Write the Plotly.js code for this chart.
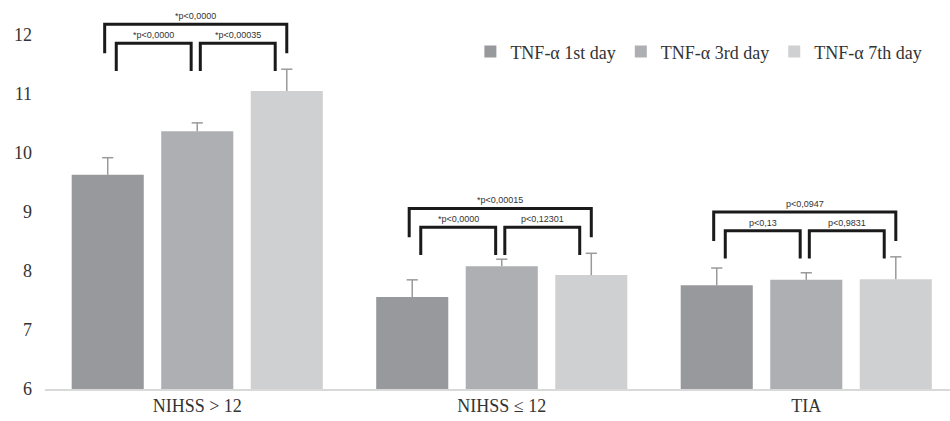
<!DOCTYPE html>
<html><head><meta charset="utf-8">
<script src="https://cdn.plot.ly/plotly-3.0.1.min.js"></script>
<style>body{margin:0;background:#fff}#c{width:950px;height:421px}</style>
</head><body><div id="c"></div>
<script>
const categories = ["NIHSS > 12", "NIHSS \u2264 12", "TIA"];
const seriesNames = ["TNF-\u03b1 1st day", "TNF-\u03b1 3rd day", "TNF-\u03b1 7th day"];
const day1 = [9.63, 7.56, 7.76];
const day3 = [10.37, 8.08, 7.85];
const day7 = [11.05, 7.93, 7.86];
const err1 = [0.29, 0.29, 0.29];
const err3 = [0.14, 0.12, 0.12];
const err7 = [0.37, 0.37, 0.38];
const pOuter = ["*p<0,0000", "*p<0,00015", "p<0,0947"];
const pLeft = ["*p<0,0000", "*p<0,0000", "p<0,13"];
const pRight = ["*p<0,00035", "p<0,12301", "p<0,9831"];
const yTicks = [6, 7, 8, 9, 10, 11, 12];

const colors = ["#98999d", "#aeafb3", "#cfd0d2"];
const vals = [day1, day3, day7];
const errs = [err1, err3, err7];
const xs = categories.map((c, i) => i);
const bargap = 0.118, slot = (1 - bargap) / 3;

const traces = vals.map((v, k) => ({
  type: "bar", name: seriesNames[k], x: xs, y: v,
  marker: {color: colors[k]}, hoverinfo: "none"
}));
// upward-only error bars: stem from bar top to value+err, cap only at the top
vals.forEach((v, k) => {
  traces.push({
    type: "scatter", mode: "markers", showlegend: false, hoverinfo: "none",
    x: xs.map(i => i + (k - 1) * slot), y: v.map((val, i) => val + errs[k][i]),
    marker: {symbol: "line-ew", size: 8, line: {color: "#9a9a9a", width: 1.5}},
    error_y: {type: "data", symmetric: false, array: v.map(() => 0), arrayminus: errs[k],
              color: "#9a9a9a", thickness: 1.5, width: 0}
  });
});

const shapes = [], annotations = [];
const lineStyle = {color: "#1a1a1a", width: 3};
function bracket(x0, x1, top, bottom, text) {
  shapes.push({type: "path", xref: "x", yref: "y",
    path: `M${x0},${bottom} L${x0},${top} L${x1},${top} L${x1},${bottom}`,
    line: lineStyle});
  annotations.push({xref: "x", yref: "y", x: (x0 + x1) / 2, y: top, text: text,
    showarrow: false, yanchor: "bottom", yshift: 1,
    font: {family: "Liberation Sans, Arial, sans-serif", size: 9, color: "#333"}});
}
xs.forEach(i => {
  const c1 = i - slot, c2 = i, c3 = i + slot;
  const maxTop = Math.max(day1[i] + err1[i], day3[i] + err3[i], day7[i] + err7[i]);
  const outerTop = maxTop + 0.76, innerTop = maxTop + 0.44;
  bracket(c1 - 0.01, c3, outerTop, outerTop - 0.49, pOuter[i]);
  bracket(c1 + 0.028, c2 - 0.02, innerTop, innerTop - 0.47, pLeft[i]);
  bracket(c2 + 0.01, c3 - 0.038, innerTop, innerTop - 0.47, pRight[i]);
});

const layout = {
  width: 950, height: 421,
  margin: {l: 45, r: 0, t: 5, b: 32},
  paper_bgcolor: "#fff", plot_bgcolor: "#fff",
  barmode: "group", bargap: bargap, bargroupgap: 0.195,
  font: {family: "Liberation Serif, Times New Roman, serif", size: 18, color: "#333"},
  xaxis: {tickmode: "array", tickvals: xs, ticktext: categories, range: [-0.5, 2.472],
          showline: true, linecolor: "#d9d9d9", linewidth: 1.5, showgrid: false, zeroline: false,
          ticks: "", tickfont: {size: 18, color: "#333"}},
  yaxis: {range: [6, 12.508], tickmode: "array", tickvals: yTicks, showgrid: false,
          zeroline: false, showline: false, ticks: "", ticklabelstandoff: 12,
          tickfont: {size: 18, color: "#333"}},
  legend: {orientation: "h", x: 0.975, xanchor: "right", y: 0.878, yanchor: "middle",
           font: {size: 18, color: "#333"}, itemwidth: 30, traceorder: "normal"},
  shapes: shapes, annotations: annotations
};
Plotly.newPlot("c", traces, layout, {staticPlot: true, displayModeBar: false});
</script></body></html>
